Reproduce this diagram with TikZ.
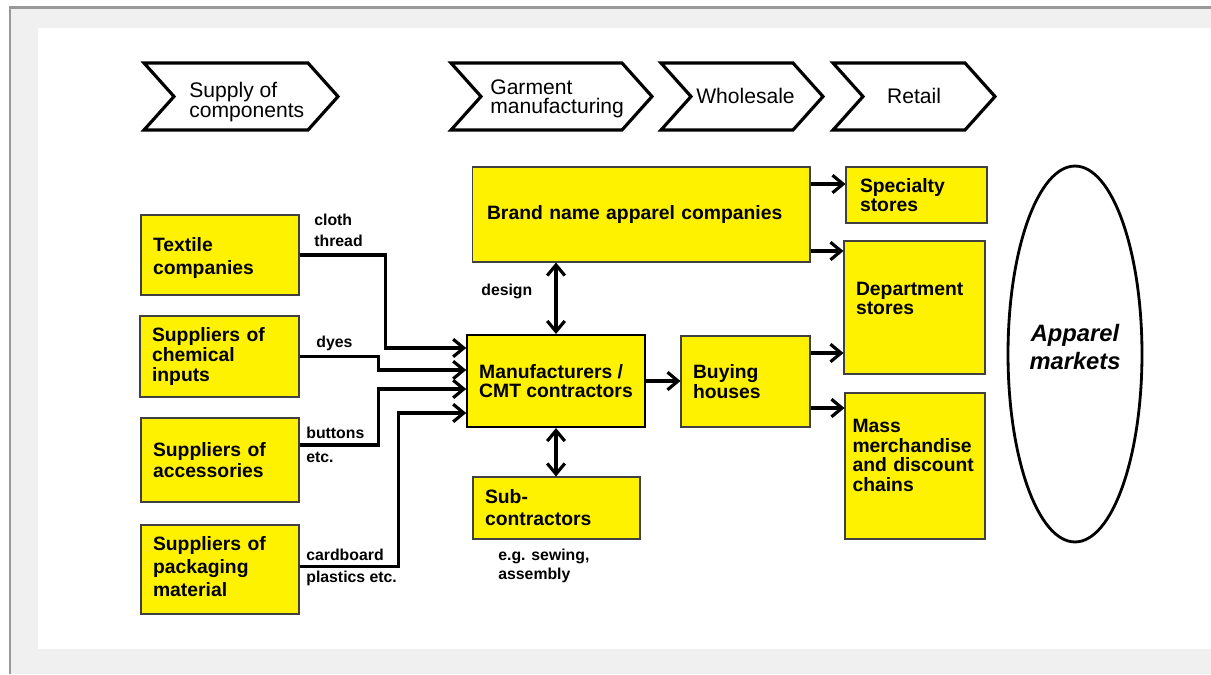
\documentclass[tikz,border=0pt]{standalone}
\usepackage{fontspec}
\setmainfont{Liberation Sans}
\usetikzlibrary{arrows.meta,calc,shapes.geometric}
\hyphenpenalty=10000

\begin{document}
\begin{tikzpicture}[
  x=0.02cm, y=-0.02cm,
  >={Straight Barb[length=6pt,width=10pt]},
  box/.style={draw=black!75, fill=yellow, line width=0.6pt, align=left, inner xsep=0.24cm, inner ysep=0pt, font=\fontsize{11}{11.2}\selectfont\bfseries},
  chev/.style={draw=black, fill=white, line width=1.8pt, line join=miter},
  stage/.style={font=\fontsize{12}{11}\selectfont, align=left, inner sep=0pt},
  lab/.style={font=\fontsize{9}{12}\selectfont\bfseries, align=left, inner sep=0pt, anchor=west},
  arr/.style={->, line width=1.8pt},
  twoway/.style={<->, line width=1.8pt}
]
\useasboundingbox (0,0) rectangle (1211,674);
\fill[white] (0,0) rectangle (1211,674);
\fill[black!6] (10,7.5) rectangle (1211,674);
\draw[black!40, line width=1.2pt] (10,674) -- (10,7.5) -- (1211,7.5);
\fill[white] (38,28) rectangle (1211,649);

% stages of the chain
\foreach \l/\r in {144/338, 451/652, 661/823, 833/995}
  \draw[chev] (\l,63) -- (\r-30,63) -- (\r,96.5) -- (\r-30,130) -- (\l,130) -- (\l+30,96.5) -- cycle;
\node[stage, anchor=west] (sup) at (189,102) {Supply of\\components};
\node[stage, anchor=west] (gar) at (490,99) {Garment\\manufacturing};
\node[stage] (whl) at (745.5,96) {Wholesale};
\node[stage] (ret) at (914,96) {Retail};

% suppliers
\node[box, text width=2.68cm, minimum height=1.6cm, text depth=12.5pt, font=\fontsize{11}{13.6}\selectfont\bfseries] (tex) at (220,255) {Textile\\companies};
\node[box, text width=2.70cm, minimum height=1.62cm] (chem) at (219.5,356.5) {Suppliers of\\chemical\\inputs};
\node[box, text width=2.68cm, minimum height=1.68cm, font=\fontsize{11}{12}\selectfont\bfseries] (acc) at (220,460) {Suppliers of\\accessories};
\node[box, text width=2.68cm, minimum height=1.78cm, text depth=29.6pt, font=\fontsize{11}{13}\selectfont\bfseries] (pack) at (220,569.5) {Suppliers of\\packaging\\material};

% production
\node[box, text width=6.16cm, inner xsep=0.3cm, minimum height=1.9cm] (brand) at (641,214.5) {Brand name apparel companies};
\node[box, draw=black, line width=1.2pt, minimum width=3.4cm, minimum height=1.84cm] (manu) at (556,381) {Manufacturers /\\CMT contractors};
\node[box, text width=2.86cm, minimum height=1.24cm, font=\fontsize{11}{12.5}\selectfont\bfseries] (sub) at (556.5,508) {Sub-\\contractors};
\node[box, text width=2.1cm, minimum height=1.82cm] (buy) at (745.5,381.5) {Buying\\houses};

% retail
\node[box, text width=2.26cm, inner xsep=0.28cm, minimum height=1.12cm] (spec) at (916.5,195) {Specialty\\stores};
\node[box, text width=2.34cm, minimum height=2.66cm, text depth=21.6pt] (dept) at (914.5,307.5) {Department\\stores};
\node[box, text width=2.5cm, inner xsep=0.15cm, minimum height=2.92cm, text depth=45.7pt] (mass) at (915,466) {Mass\\merchandise\\and discount\\chains};

\node[draw, ellipse, line width=1.6pt, minimum width=2.68cm, minimum height=7.52cm, inner sep=0pt, align=center, text depth=8pt, font=\fontsize{13.5}{15.9}\selectfont\bfseries\itshape] (mkt) at (1075,354) {Apparel\\markets};

% labels
\node[lab] (lcl) at (314,230.5) {cloth\\thread};
\node[lab] (ldy) at (316,343) {dyes};
\node[lab, font=\fontsize{9}{13.6}\selectfont\bfseries] (lbu) at (306,445) {buttons\\etc.};
\node[lab, font=\fontsize{9}{12.5}\selectfont\bfseries] (lca) at (306,567) {cardboard\\plastics etc.};
\node[lab] (lde) at (481,291) {design};
\node[lab, font=\fontsize{9}{10.8}\selectfont\bfseries] (leg) at (498,565.5) {e.g. sewing,\\assembly};

% flows
\draw[arr] (tex.east) -- ++(86,0) |- ($(manu.west)+(0,-33)$);
\draw[arr] (chem.east) -- ++(79,0) |- ($(manu.west)+(0,-11)$);
\draw[arr] ($(acc.east)+(0,-15)$) -- ++(79,0) |- ($(manu.west)+(0,8)$);
\draw[arr] ($(pack.east)+(0,-3)$) -- ++(99,0) |- ($(manu.west)+(0,32)$);
\draw[twoway] (manu.north) -- (manu.north |- brand.south);
\draw[twoway] (manu.south) -- (manu.south |- sub.north);
\draw[arr] (manu.east) -- (manu.east -| buy.west);
\draw[arr] ($(brand.east)+(0,-30.5)$) coordinate (p) -- (p -| spec.west);
\draw[arr] ($(brand.east)+(0,36.5)$) coordinate (p) -- (p -| dept.west);
\draw[arr] ($(buy.east)+(0,-28.5)$) coordinate (p) -- (p -| dept.west);
\draw[arr] ($(buy.east)+(0,26.5)$) coordinate (p) -- (p -| mass.west);
\end{tikzpicture}
\end{document}
